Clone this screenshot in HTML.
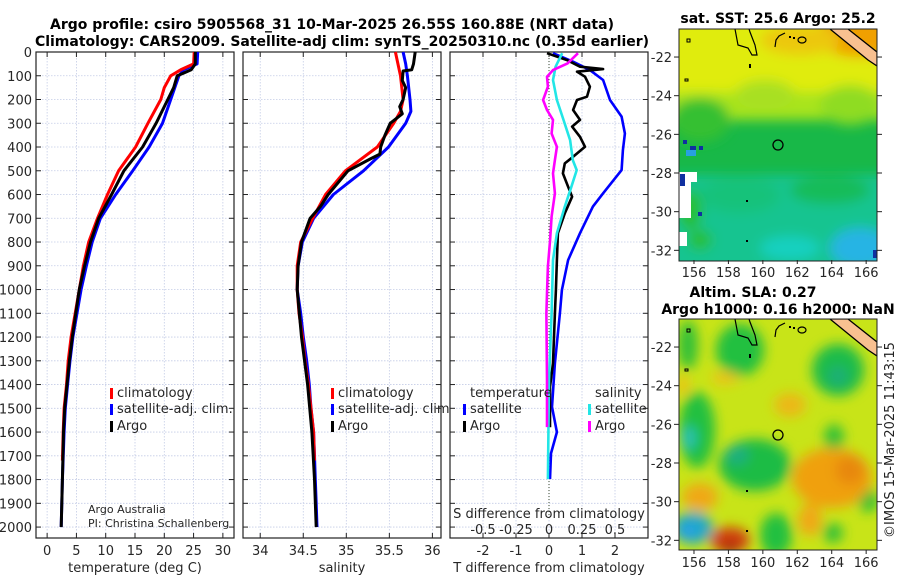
<!DOCTYPE html>
<html><head><meta charset="utf-8">
<style>
html,body{margin:0;padding:0;background:#fff;}
svg{display:block;font-family:"DejaVu Sans","Liberation Sans",sans-serif;}
</style></head>
<body>
<svg id="fig" width="900" height="580" viewBox="0 0 900 580" xmlns="http://www.w3.org/2000/svg">
<defs>
  <clipPath id="clipMap1"><rect x="679" y="29" width="198" height="232"/></clipPath>
  <clipPath id="clipMap2"><rect x="679" y="319" width="198" height="231"/></clipPath>
  <filter id="blur6" x="-50%" y="-50%" width="200%" height="200%"><feGaussianBlur stdDeviation="6"/></filter>
  <filter id="blur3" x="-50%" y="-50%" width="200%" height="200%"><feGaussianBlur stdDeviation="3"/></filter>
</defs>
<text x="332" y="29" font-size="14" font-weight="bold" text-anchor="middle" fill="#000">Argo profile: csiro 5905568_31 10-Mar-2025 26.55S 160.88E (NRT data)</text>
<text x="342" y="46" font-size="14" font-weight="bold" text-anchor="middle" fill="#000">Climatology: CARS2009. Satellite-adj clim: synTS_20250310.nc (0.35d earlier)</text>

<g id="p1"></g>
<g id="p2"></g>
<g id="p3"></g>

<!-- Map 1: SST -->
<g>
  <text x="778" y="23" font-size="14" font-weight="bold" text-anchor="middle">sat. SST: 25.6 Argo: 25.2</text>
  <g clip-path="url(#clipMap1)">
    <rect x="679" y="29" width="198" height="232" fill="#18b848"/>
    <g filter="url(#blur6)">
      <rect x="660" y="10" width="240" height="90" fill="#e0ec08"/>
      <rect x="660" y="92" width="240" height="28" fill="#a8e41c"/>
      <ellipse cx="850" cy="105" rx="30" ry="20" fill="#8fdc22"/>
      <ellipse cx="700" cy="120" rx="30" ry="22" fill="#34c030"/>
      <ellipse cx="765" cy="95" rx="30" ry="15" fill="#a8e020"/>
      <ellipse cx="860" cy="35" rx="45" ry="22" fill="#f0a000"/>
      <ellipse cx="800" cy="40" rx="40" ry="15" fill="#ecc808"/>
      <rect x="660" y="175" width="240" height="100" fill="#12c490"/>
      <ellipse cx="740" cy="195" rx="40" ry="18" fill="#16c27a"/>
      <ellipse cx="830" cy="190" rx="40" ry="14" fill="#14bc58"/>
      <ellipse cx="860" cy="248" rx="30" ry="20" fill="#28b4e4"/>
      <ellipse cx="790" cy="248" rx="30" ry="12" fill="#14d0c0"/>
      <ellipse cx="690" cy="210" rx="12" ry="20" fill="#28c030"/>
      <ellipse cx="700" cy="240" rx="12" ry="10" fill="#28c030"/>
    </g>
    <rect x="679" y="172" width="18" height="10" fill="#fff"/>
    <rect x="679" y="180" width="12" height="38" fill="#fff"/>
    <rect x="679" y="232" width="8" height="14" fill="#fff"/>
    <rect x="680" y="174" width="5" height="12" fill="#1030a0"/>
    <rect x="683" y="140" width="4" height="4" fill="#1030a0"/>
    <rect x="690" y="146" width="6" height="5" fill="#1030a0"/>
    <rect x="686" y="150" width="10" height="6" fill="#28a0e0"/>
    <rect x="699" y="146" width="4" height="4" fill="#1030a0"/>
    <rect x="698" y="212" width="4" height="4" fill="#1030a0"/>
    <rect x="873" y="250" width="4" height="8" fill="#1030a0"/>
    <polygon points="830,29 848,29 877,52 877,66 868,60" fill="#f8c090" stroke="#000" stroke-width="1.3"/>
    <polyline points="735,29 738,45 748,48 752,55 757,55 755,45 750,32 749,29" fill="none" stroke="#000" stroke-width="1.2"/>
    <polyline points="775,47 776,40 779,36 785,33" fill="none" stroke="#000" stroke-width="1.2"/>
    <ellipse cx="802" cy="40" rx="4" ry="3" fill="none" stroke="#000" stroke-width="1.2"/>
    <rect x="789" y="36" width="2" height="2"/><rect x="793" y="37" width="2" height="2"/>
    <rect x="749" y="64" width="2" height="4"/>
    <rect x="687" y="39" width="3" height="3" fill="none" stroke="#000"/>
    <rect x="685" y="79" width="3" height="2" fill="none" stroke="#000"/>
    <rect x="746" y="200" width="2" height="2"/><rect x="746" y="240" width="2" height="2"/>
    <circle cx="778" cy="145" r="5" fill="none" stroke="#000" stroke-width="1.3"/>
  </g>
  <rect x="679" y="29" width="198" height="232" fill="none" stroke="#222" stroke-width="1"/>
  <g id="m1ticks"></g>
</g>

<!-- Map 2: SLA -->
<g>
  <text x="753" y="297" font-size="14" font-weight="bold" text-anchor="middle">Altim. SLA: 0.27</text>
  <text x="778" y="314" font-size="14" font-weight="bold" text-anchor="middle">Argo h1000: 0.16 h2000: NaN</text>
  <g clip-path="url(#clipMap2)">
    <rect x="679" y="319" width="198" height="231" fill="#c8e418"/>
    <g filter="url(#blur6)">
      <ellipse cx="740" cy="350" rx="24" ry="26" fill="#22c040"/>
      <ellipse cx="688" cy="345" rx="10" ry="25" fill="#30c038"/>
      <ellipse cx="838" cy="370" rx="26" ry="26" fill="#1cbc48"/>
      <ellipse cx="838" cy="376" rx="10" ry="10" fill="#1cae78"/>
      <ellipse cx="697" cy="430" rx="18" ry="38" fill="#22c040"/>
      <ellipse cx="689" cy="438" rx="7" ry="12" fill="#28c0b8"/>
      <ellipse cx="755" cy="465" rx="36" ry="26" fill="#1cbc44"/>
      <ellipse cx="737" cy="455" rx="12" ry="10" fill="#1aaf80"/>
      <ellipse cx="834" cy="438" rx="10" ry="14" fill="#30c038"/>
      <ellipse cx="868" cy="500" rx="10" ry="12" fill="#28c038"/>
      <ellipse cx="776" cy="535" rx="16" ry="22" fill="#22c040"/>
      <ellipse cx="833" cy="533" rx="10" ry="10" fill="#30c038"/>
      <ellipse cx="693" cy="528" rx="20" ry="16" fill="#20a8c8"/>
      <ellipse cx="688" cy="532" rx="8" ry="7" fill="#28a0e8"/>
      <ellipse cx="730" cy="540" rx="20" ry="13" fill="#d04010"/>
      <ellipse cx="730" cy="548" rx="8" ry="6" fill="#a02008"/>
      <ellipse cx="832" cy="478" rx="40" ry="30" fill="#f0a010"/>
      <ellipse cx="850" cy="470" rx="15" ry="15" fill="#e88810"/>
      <ellipse cx="700" cy="497" rx="18" ry="14" fill="#f0a818"/>
      <ellipse cx="725" cy="378" rx="14" ry="6" fill="#f0c018"/>
      <ellipse cx="790" cy="405" rx="16" ry="12" fill="#ecb818"/>
      <ellipse cx="810" cy="520" rx="12" ry="16" fill="#f0a818"/>
      <ellipse cx="683" cy="385" rx="6" ry="10" fill="#f0c018"/>
    </g>
    <polygon points="830,319 848,319 877,342 877,356 868,350" fill="#f8c090" stroke="#000" stroke-width="1.3"/>
    <polyline points="735,319 738,335 748,338 752,345 757,345 755,335 750,322 749,319" fill="none" stroke="#000" stroke-width="1.2"/>
    <polyline points="775,337 776,330 779,326 785,323" fill="none" stroke="#000" stroke-width="1.2"/>
    <ellipse cx="802" cy="330" rx="4" ry="3" fill="none" stroke="#000" stroke-width="1.2"/>
    <rect x="789" y="326" width="2" height="2"/><rect x="793" y="327" width="2" height="2"/>
    <rect x="749" y="354" width="2" height="4"/>
    <rect x="687" y="329" width="3" height="3" fill="none" stroke="#000"/>
    <rect x="685" y="369" width="3" height="2" fill="none" stroke="#000"/>
    <rect x="746" y="490" width="2" height="2"/><rect x="746" y="530" width="2" height="2"/>
    <circle cx="778" cy="435" r="5" fill="none" stroke="#000" stroke-width="1.3"/>
  </g>
  <rect x="679" y="319" width="198" height="231" fill="none" stroke="#222" stroke-width="1"/>
  <g id="m2ticks"></g>
</g>

<text transform="translate(894,440) rotate(-90)" font-size="13" text-anchor="middle" fill="#222">©IMOS 15-Mar-2025 11:43:15</text>
</svg>

<script>
// ---------------- data ----------------
const depthTicks = [0,100,200,300,400,500,600,700,800,900,1000,1100,1200,1300,1400,1500,1600,1700,1800,1900,2000];
const tempTicks = [0,5,10,15,20,25,30];
const salTicks = [34,34.5,35,35.5,36];
const salTickLabels = ["34","34.5","35","35.5","36"];
const dTTicks = [-2,-1,0,1,2];
const dSTicks = [-0.5,-0.25,0,0.25,0.5];
const dSTickLabels = ["-0.5","-0.25","0","0.25","0.5"];

const tClimDepth = [0,50,75,100,150,200,300,400,500,600,700,800,900,1000,1100,1200,1300,1400,1500,1600,1720];
const tClim = [25.1,25.0,22.8,21.1,20.0,19.4,17.2,15.1,12.2,10.3,8.6,7.1,6.2,5.5,4.8,4.1,3.6,3.3,2.9,2.75,2.6];
const tSatDepth = [0,50,75,100,200,300,400,500,600,700,800,900,1000,1100,1200,1300,1400,1500,1600,1800,2000];
const tSat = [25.7,25.6,23.3,22.5,21.1,19.7,17.4,14.6,11.7,9.1,7.7,6.7,5.8,5.1,4.4,3.9,3.5,3.1,2.9,2.6,2.4];
const tArgoDepth = [0,50,75,90,100,150,200,300,400,500,600,700,800,900,1000,1100,1200,1300,1400,1500,1600,1800,2000];
const tArgo = [25.3,25.3,24.6,23.2,22.2,21.6,20.6,18.6,16.3,13.1,11.0,8.8,7.4,6.4,5.5,4.9,4.3,3.8,3.4,3.0,2.8,2.6,2.4];

const sClimDepth = [0,100,200,250,300,400,500,600,700,800,900,1000,1100,1200,1300,1400,1500,1600,1720];
const sClim = [35.57,35.63,35.66,35.63,35.55,35.36,34.99,34.76,34.61,34.47,34.43,34.43,34.45,34.49,34.52,34.56,34.59,34.62,34.63];
const sSatDepth = [0,50,100,200,250,300,400,500,600,700,800,900,1000,1100,1200,1300,1400,1500,1600,1700,1800,1900,2000];
const sSat = [35.66,35.69,35.71,35.74,35.75,35.69,35.49,35.20,34.85,34.62,34.49,34.44,34.43,34.47,34.50,34.54,34.57,34.59,34.62,34.63,34.64,34.65,34.66];
const sArgoDepth = [0,50,75,80,120,150,200,230,260,300,350,400,430,450,500,600,650,700,800,900,1000,1200,1400,1600,1800,2000];
const sArgo = [35.80,35.78,35.76,35.66,35.65,35.69,35.66,35.62,35.65,35.51,35.45,35.40,35.39,35.28,35.02,34.79,34.70,34.58,34.48,34.44,34.43,34.48,34.55,34.60,34.63,34.65];

const dTSatDepth = [5,41,76,118,202,272,343,413,497,595,651,763,876,1002,1100,1310,1494,1600,1690,1798];
const dTSat = [0.12,0.73,1.24,1.64,1.85,2.2,2.3,2.24,2.2,1.64,1.33,0.94,0.58,0.39,0.33,0.18,0.09,0.24,0.06,0.03];
const dTArgoDepth = [5,34,62,72,83,104,146,188,202,244,286,314,357,399,441,469,511,567,609,679,763,876,1002,1100,1310,1410,1520,1580];
const dTArgo = [-0.06,0.55,0.94,1.64,0.85,1.09,1.24,1.15,0.85,0.73,0.94,0.70,0.94,1.09,0.73,0.48,0.42,0.58,0.70,0.48,0.27,0.24,0.21,0.18,0.12,0.03,0.03,0.03];
const dSArgoDepth = [5,48,76,104,146,202,244,286,343,399,455,511,595,693,791,903,1016,1100,1380,1579];
const dSArgo = [0.22,0.14,0.03,-0.015,-0.008,-0.045,-0.015,0.03,0.02,0.06,0.045,0.03,0.045,0.02,0.008,-0.008,-0.015,-0.02,-0.015,-0.015];
const dSSatDepth = [5,62,118,202,286,371,455,497,567,651,763,876,1100,1380,1798];
const dSSat = [0.1,0.05,0.03,0.06,0.11,0.16,0.18,0.21,0.17,0.12,0.06,0.03,0.02,0,-0.008];

const mapLatTicks = [-22,-24,-26,-28,-30,-32];
const mapLonTicks = [156,158,160,162,164,166];

// ---------------- helpers ----------------
const NS = "http://www.w3.org/2000/svg";
function mk(tag, attrs, parent){
  const e = document.createElementNS(NS, tag);
  for (const k in attrs) e.setAttribute(k, attrs[k]);
  parent.appendChild(e);
  return e;
}
const TOP = 52, BOT = 538, DMAX = 2046;
function yD(d){ return TOP + d/DMAX*(BOT-TOP); }
function lin(a,b,x0,x1){ return v => x0 + (v-a)/(b-a)*(x1-x0); }

function panel(g, x0, x1, xmin, xmax, gridVals, showDepthLabels){
  const xs = lin(xmin,xmax,x0,x1);
  gridVals.forEach(v=>{
    const gl = mk('line',{x1:xs(v),x2:xs(v),y1:TOP,y2:BOT,stroke:'#c4cce6','stroke-width':0.8,'stroke-dasharray':'1.5,1.5'},g);
    
    
  });
  depthTicks.forEach(d=>{
    const gl = mk('line',{x1:x0,x2:x1,y1:yD(d),y2:yD(d),stroke:'#c4cce6','stroke-width':0.8,'stroke-dasharray':'1.5,1.5'},g);
    
    
    mk('line',{x1:x0,x2:x0+5,y1:yD(d),y2:yD(d),stroke:'#222','stroke-width':1},g);
    mk('line',{x1:x1-5,x2:x1,y1:yD(d),y2:yD(d),stroke:'#222','stroke-width':1},g);
    if (showDepthLabels){
      const t = mk('text',{x:x0-4,y:yD(d)+5,'font-size':13,'text-anchor':'end',fill:'#262626'},g);
      t.textContent = d;
      
      
    }
  });
  gridVals.forEach(v=>{
    mk('line',{x1:xs(v),x2:xs(v),y1:BOT-5,y2:BOT,stroke:'#222','stroke-width':1},g);
    mk('line',{x1:xs(v),x2:xs(v),y1:TOP,y2:TOP+5,stroke:'#222','stroke-width':1},g);
  });
  const box = mk('rect',{x:x0,y:TOP,width:x1-x0,height:BOT-TOP,fill:'none',stroke:'#222','stroke-width':1.2},g);
  
  
  return xs;
}
function series(g, xs, depths, vals, color, w, name){
  const pts = depths.map((d,i)=> xs(vals[i]).toFixed(1)+','+yD(d).toFixed(1)).join(' ');
  const p = mk('polyline',{points:pts,fill:'none',stroke:color,'stroke-width':w,'stroke-linejoin':'round'},g);
  
  
}
function tickLabels(g, xs, vals, labels, y){
  vals.forEach((v,i)=>{
    const t = mk('text',{x:xs(v),y:y,'font-size':13,'text-anchor':'middle',fill:'#262626'},g);
    t.textContent = labels[i];
    
    
  });
}
function label(g, x, y, txt, name, size, anchor){
  const t = mk('text',{x:x,y:y,'font-size':size||13,'text-anchor':anchor||'start',fill:'#262626'},g);
  t.textContent = txt;
  
  
  return t;
}
function legendEntry(g, x, y, color, txt){
  const m = mk('rect',{x:x,y:y-9,width:3,height:11,fill:color},g);
  
  
  label(g, x+7, y, txt, 'legend-entry');
}

// ---------------- panel 1 ----------------
const g1 = document.getElementById('p1');
const xs1 = panel(g1, 36, 234, -1.9, 31.9, tempTicks, true);
series(g1, xs1, tSatDepth, tSat, '#0000ff', 3, 'temp-satellite-line');
series(g1, xs1, tClimDepth, tClim, '#ff0000', 3, 'temp-climatology-line');
series(g1, xs1, tArgoDepth, tArgo, '#000', 3, 'temp-argo-line');
tickLabels(g1, xs1, tempTicks, tempTicks.map(String), 555);
label(g1, 135, 572, 'temperature (deg C)', 'x-axis-title-temperature', 13, 'middle');
legendEntry(g1, 110, 397, '#ff0000', 'climatology');
legendEntry(g1, 110, 413, '#0000ff', 'satellite-adj. clim.');
legendEntry(g1, 110, 430, '#000', 'Argo');
label(g1, 88, 513, 'Argo Australia', 'credit-institution', 11);
label(g1, 88, 527, 'PI: Christina Schallenberg', 'credit-pi', 11);

// ---------------- panel 2 ----------------
const g2 = document.getElementById('p2');
const xs2 = panel(g2, 243, 441, 33.80, 36.10, salTicks, false);
series(g2, xs2, sSatDepth, sSat, '#0000ff', 3, 'sal-satellite-line');
series(g2, xs2, sClimDepth, sClim, '#ff0000', 3, 'sal-climatology-line');
series(g2, xs2, sArgoDepth, sArgo, '#000', 3, 'sal-argo-line');
tickLabels(g2, xs2, salTicks, salTickLabels, 555);
label(g2, 342, 572, 'salinity', 'x-axis-title-salinity', 13, 'middle');
legendEntry(g2, 331, 397, '#ff0000', 'climatology');
legendEntry(g2, 331, 413, '#0000ff', 'satellite-adj. clim.');
legendEntry(g2, 331, 430, '#000', 'Argo');

// ---------------- panel 3 ----------------
const g3 = document.getElementById('p3');
mk('rect',{x:450,y:TOP,width:198,height:BOT-TOP,fill:'#fff'},g3);
const xs3 = panel(g3, 450, 648, -3, 3, dTTicks, false);
const xs3s = lin(-0.75, 0.75, 450, 648);
mk('line',{x1:xs3(0),x2:xs3(0),y1:TOP,y2:BOT-20,stroke:'#3a4a30','stroke-width':1,'stroke-dasharray':'1,2'},g3);
series(g3, xs3, dTSatDepth, dTSat, '#0000ff', 2.6, 'dT-satellite-line');
series(g3, xs3, dTArgoDepth, dTArgo, '#000', 2.6, 'dT-argo-line');
series(g3, xs3s, dSSatDepth, dSSat, '#22e6e6', 2.6, 'dS-satellite-line');
series(g3, xs3s, dSArgoDepth, dSArgo, '#ff00ff', 2.6, 'dS-argo-line');
tickLabels(g3, xs3, dTTicks, dTTicks.map(String), 555);
label(g3, 549, 572, 'T difference from climatology', 'x-axis-title-T-difference', 13, 'middle');
tickLabels(g3, xs3s, dSTicks, dSTickLabels, 534);
label(g3, 549, 518, 'S difference from climatology', 'S-axis-title', 13, 'middle');
label(g3, 470, 397, 'temperature', 'legend-title-temperature');
legendEntry(g3, 463, 413, '#0000ff', 'satellite');
legendEntry(g3, 463, 430, '#000', 'Argo');
label(g3, 595, 397, 'salinity', 'legend-title-salinity');
legendEntry(g3, 588, 413, '#22e6e6', 'satellite');
legendEntry(g3, 588, 430, '#ff00ff', 'Argo');

// ---------------- map axes ----------------
function mapAxes(id, top, bottom){
  const g = document.getElementById(id);
  const xl = lin(155.13, 166.63, 679, 877);
  const yl = lin(-20.55, -32.5, top, bottom);
  mapLatTicks.forEach(v=>{
    mk('line',{x1:674,x2:679,y1:yl(v),y2:yl(v),stroke:'#222'},g);
    mk('line',{x1:877,x2:882,y1:yl(v),y2:yl(v),stroke:'#222'},g);
    const t = mk('text',{x:672,y:yl(v)+5,'font-size':13,'text-anchor':'end',fill:'#262626'},g);
    t.textContent = v;
    
    
  });
  mapLonTicks.forEach(v=>{
    mk('line',{x1:xl(v),x2:xl(v),y1:bottom,y2:bottom+4,stroke:'#222'},g);
    const t = mk('text',{x:xl(v),y:bottom+17,'font-size':13,'text-anchor':'middle',fill:'#262626'},g);
    t.textContent = v;
    
    
  });
}
mapAxes('m1ticks', 29, 260);
mapAxes('m2ticks', 319, 550);
</script>
</body></html>
